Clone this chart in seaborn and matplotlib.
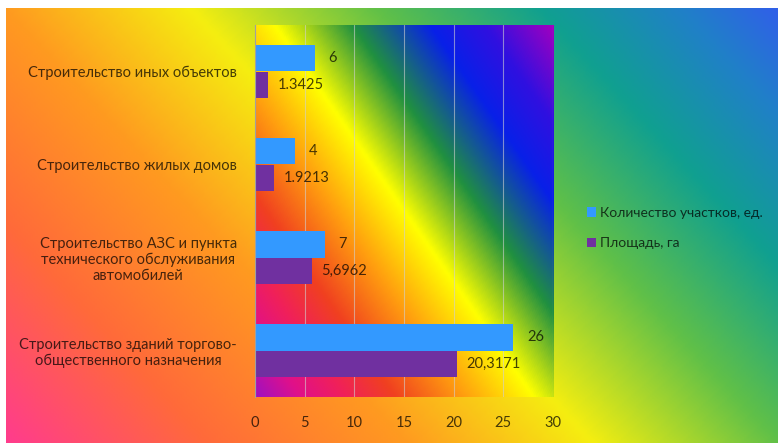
import numpy as np
import pandas as pd
import matplotlib
matplotlib.use('Agg')
import matplotlib.pyplot as plt
from matplotlib.colors import LinearSegmentedColormap
import seaborn as sns

categories = ['Строительство иных объектов',
              'Строительство жилых домов',
              'Строительство АЗС и пункта\nтехнического обслуживания\nавтомобилей',
              'Строительство зданий торгово-\nобщественного назначения']
series = ['Количество участков, ед.', 'Площадь, га']
counts = [6, 4, 7, 26]
areas = [1.3425, 1.9213, 5.6962, 20.3171]
count_labels = ['6', '4', '7', '26']
area_labels = ['1.3425', '1.9213', '5,6962', '20,3171']
xticks = [0, 5, 10, 15, 20, 25, 30]

colors = ['#3399FF', '#7030A0']
text_col = (0, 0, 0, 0.72)

# colour ramps of the two fills
fig_stops = [(0.0, '#FF3C8C'), (0.17, '#FF6A3A'), (0.34, '#FF9A20'), (0.50, '#F5EE10'),
             (0.66, '#60C048'), (0.80, '#10A090'), (0.92, '#2080C8'), (1.0, '#3060E8')]
plot_stops = [(0.0, '#A010C0'), (0.08, '#E0108A'), (0.16, '#F0205A'), (0.25, '#F04020'),
              (0.37, '#FF9A10'), (0.50, '#FFFF00'), (0.64, '#209040'), (0.78, '#0820E8'),
              (0.88, '#3010E0'), (1.0, '#A000C0')]


def gradient(ax, w, h, gx, gy, stops):
    # linear ramp along (gx, gy) in pixels, y pointing up
    X, Y = np.meshgrid(np.linspace(0, w, 300), np.linspace(h, 0, 200))
    s = gx * X + gy * Y
    s = (s - s.min()) / (s.max() - s.min())
    cmap = LinearSegmentedColormap.from_list('g', stops)
    ax.imshow(s, cmap=cmap, aspect='auto', extent=[0, 1, 0, 1], interpolation='bilinear')
    ax.set_xlim(0, 1)
    ax.set_ylim(0, 1)
    ax.axis('off')


sns.set_theme(style='white')
plt.rcParams['font.family'] = ['Lato', 'DejaVu Sans']

W, H = 778, 443
fig = plt.figure(figsize=(W / 100, H / 100), dpi=100)

bg = fig.add_axes([6 / W, 0, 772 / W, 435 / H])
bg.set_zorder(-2)
gradient(bg, 772, 435, 433, 400, fig_stops)

rect = [255 / W, 46 / H, 298 / W, 372 / H]
pbg = fig.add_axes(rect)
pbg.set_zorder(0)
gradient(pbg, 298, 372, 372, 258, plot_stops)

ax = fig.add_axes(rect)
ax.set_zorder(1)
ax.set_facecolor('none')

df = pd.DataFrame({
    'category': categories * 2,
    'series': [series[0]] * 4 + [series[1]] * 4,
    'value': counts + areas,
})

sns.barplot(data=df, x='value', y='category', hue='series', orient='h',
            palette=colors, saturation=1, width=0.56, linewidth=0, ax=ax)

ax.bar_label(ax.containers[0], labels=count_labels, padding=10, fontsize=10.5, color=text_col)
ax.bar_label(ax.containers[1], labels=area_labels, padding=7, fontsize=10.5, color=text_col)

ax.set_xlim(0, 30)
ax.set_xticks(xticks)
ax.set_xlabel('')
ax.set_ylabel('')
ax.tick_params(axis='x', length=0, pad=14, labelsize=10.5, labelcolor=text_col)
ax.tick_params(axis='y', length=0, pad=13, labelsize=10.5, labelcolor=text_col)
for lbl in ax.get_yticklabels():
    lbl.set_multialignment('center')

ax.grid(axis='x', color='#d0d0d0', alpha=0.6, linewidth=0.8)
ax.grid(axis='y', visible=False)
ax.set_axisbelow(True)
for side in ['top', 'right', 'bottom']:
    ax.spines[side].set_visible(False)
ax.spines['left'].set_color('#a0a0a0')
ax.spines['left'].set_linewidth(0.8)

handles, labels = ax.get_legend_handles_labels()
ax.legend(handles, labels, loc='center left', bbox_to_anchor=(574 / W, 1 - 228 / H),
          bbox_transform=fig.transFigure, frameon=False, fontsize=10,
          handlelength=0.7, handleheight=0.7, handletextpad=0.3, labelspacing=1.35,
          labelcolor=text_col)

fig.savefig('out.png', dpi=100)
